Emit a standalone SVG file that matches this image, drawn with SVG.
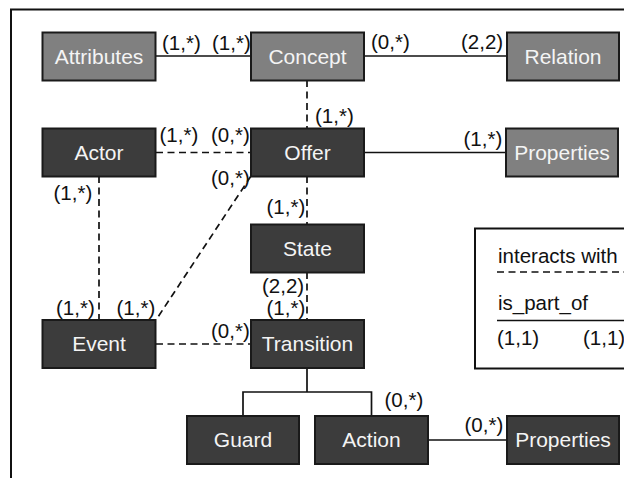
<svg xmlns="http://www.w3.org/2000/svg" width="624" height="478" viewBox="0 0 624 478">
  <style>
    .box { stroke: #1a1a1a; stroke-width: 2; }
    .light { fill: #808080; }
    .dark { fill: #3c3c3c; }
    .name { font-family: "Liberation Sans", Arial, sans-serif; font-size: 21px; fill: #f4f4f4; text-anchor: middle; }
    .card { font-family: "Liberation Sans", Arial, sans-serif; font-size: 20.5px; fill: #111; }
    .solid { stroke: #111; stroke-width: 1.7; fill: none; }
    .dash { stroke: #111; stroke-width: 1.7; fill: none; stroke-dasharray: 7 4.5; }
  </style>
  <rect width="624" height="478" fill="#ffffff"/>
  <!-- outer frame -->
  <rect x="11" y="9.5" width="640" height="500" fill="none" stroke="#111" stroke-width="2"/>

  <!-- connectors -->
  <g id="connectors">
    <line class="solid" x1="156" y1="56" x2="251" y2="56"/>
    <line class="solid" x1="364" y1="56" x2="507" y2="56"/>
    <line class="dash" x1="307" y1="80" x2="307" y2="128"/>
    <line class="dash" x1="156" y1="152.5" x2="251" y2="152.5"/>
    <line class="solid" x1="364" y1="152.5" x2="506" y2="152.5"/>
    <line class="dash" x1="99" y1="176" x2="99" y2="320"/>
    <line class="dash" x1="251" y1="176" x2="156" y2="320"/>
    <line class="dash" x1="307" y1="176" x2="307" y2="224"/>
    <line class="dash" x1="307" y1="272" x2="307" y2="320"/>
    <line class="dash" x1="156" y1="344" x2="251" y2="344"/>
    <path class="solid" d="M307 368 V392 M243 416 V392 H371.5 V416"/>
    <line class="solid" x1="428" y1="440" x2="507" y2="440"/>

    <text class="card" x="162" y="49.5">(1,*)</text>
    <text class="card" x="212" y="49.5">(1,*)</text>
    <text class="card" x="371" y="49">(0,*)</text>
    <text class="card" x="461" y="49">(2,2)</text>
    <text class="card" x="315" y="122.5">(1,*)</text>
    <text class="card" x="159.5" y="142">(1,*)</text>
    <text class="card" x="211" y="142">(0,*)</text>
    <text class="card" x="463.5" y="146">(1,*)</text>
    <text class="card" x="211" y="185">(0,*)</text>
    <text class="card" x="53.5" y="200">(1,*)</text>
    <text class="card" x="266.5" y="214">(1,*)</text>
    <text class="card" x="56" y="315">(1,*)</text>
    <text class="card" x="116.5" y="315">(1,*)</text>
    <text class="card" x="262" y="293">(2,2)</text>
    <text class="card" x="266.5" y="314.5">(1,*)</text>
    <text class="card" x="211" y="337.5">(0,*)</text>
    <text class="card" x="384.5" y="407">(0,*)</text>
    <text class="card" x="464.5" y="432">(0,*)</text>
  </g>

  <!-- nodes -->
  <g id="attributes"><rect class="box light" x="42.5" y="32.5" width="113" height="48"/><text class="name" x="99" y="63.5">Attributes</text></g>
  <g id="concept"><rect class="box light" x="251" y="32.5" width="113" height="48"/><text class="name" x="307.5" y="63.5">Concept</text></g>
  <g id="relation"><rect class="box light" x="507" y="32.5" width="112" height="48"/><text class="name" x="563" y="63.5">Relation</text></g>
  <g id="actor"><rect class="box dark" x="42.5" y="128.5" width="113" height="48"/><text class="name" x="99" y="159.5">Actor</text></g>
  <g id="offer"><rect class="box dark" x="251" y="128.5" width="113" height="48"/><text class="name" x="307.5" y="159.5">Offer</text></g>
  <g id="offer-properties"><rect class="box light" x="506" y="128.5" width="112" height="48"/><text class="name" x="562" y="159.5">Properties</text></g>
  <g id="state"><rect class="box dark" x="251" y="224.5" width="113" height="48"/><text class="name" x="307.5" y="255.5">State</text></g>
  <g id="event"><rect class="box dark" x="42.5" y="320" width="113" height="48"/><text class="name" x="99" y="351">Event</text></g>
  <g id="transition"><rect class="box dark" x="251" y="320" width="113" height="48"/><text class="name" x="307.5" y="351">Transition</text></g>
  <g id="guard"><rect class="box dark" x="187" y="416" width="112" height="48"/><text class="name" x="243" y="447">Guard</text></g>
  <g id="action"><rect class="box dark" x="315" y="416" width="113" height="48"/><text class="name" x="371.5" y="447">Action</text></g>
  <g id="action-properties"><rect class="box dark" x="507" y="416" width="112" height="48"/><text class="name" x="563" y="447">Properties</text></g>

  <!-- legend -->
  <g id="legend">
    <rect x="475" y="228.5" width="200" height="140" fill="#fff" stroke="#111" stroke-width="2"/>
    <text class="card" x="498" y="262.5">interacts with</text>
    <line class="dash" x1="497" y1="272" x2="640" y2="272"/>
    <text class="card" x="498" y="310">is_part_of</text>
    <line class="solid" x1="497" y1="320.5" x2="640" y2="320.5"/>
    <text class="card" x="497" y="344.5">(1,1)</text>
    <text class="card" x="583" y="344.5">(1,1)</text>
  </g>
</svg>
